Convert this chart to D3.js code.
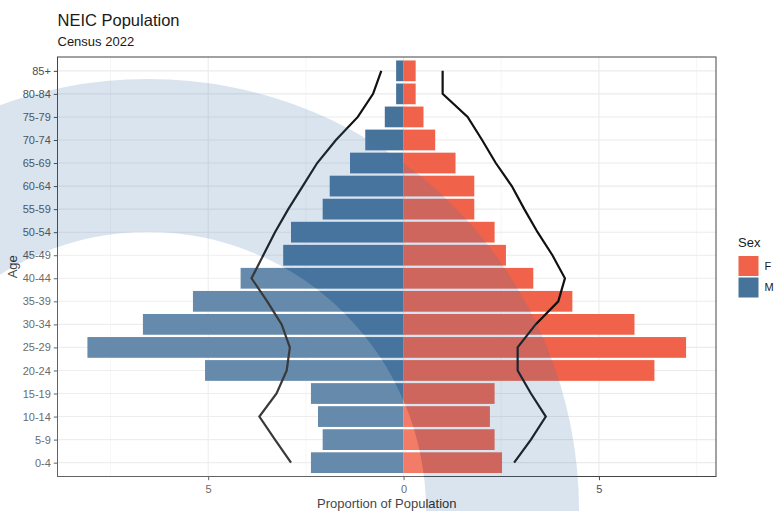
<!DOCTYPE html>
<html lang="en">
<head>
<meta charset="UTF-8">
<script src="https://d3js.org/d3.v7.min.js"></script>
<style>
  body { margin: 0; background: #fff; }
  text { font-family: "Liberation Sans", Arial, sans-serif; }
</style>
</head>
<body>
<div id="my_dataviz"></div>
<script>

// age groups, youngest first (drawn bottom to top)
const ageGroups = ["0-4", "5-9", "10-14", "15-19", "20-24", "25-29", "30-34", "35-39", "40-44",
                   "45-49", "50-54", "55-59", "60-64", "65-69", "70-74", "75-79", "80-84", "85+"];

// NEIC census 2022, % of population
const malePct   = [2.37, 2.07, 2.19, 2.37, 5.08, 8.09, 6.67, 5.39, 4.17, 3.08, 2.88, 2.07, 1.89, 1.37, 0.98, 0.48, 0.19, 0.19];
const femalePct = [2.52, 2.33, 2.21, 2.33, 6.42, 7.23, 5.91, 4.32, 3.32, 2.62, 2.33, 1.81, 1.81, 1.33, 0.81, 0.51, 0.31, 0.31];

// reference population outline (black lines)
const maleRef   = [2.88, 3.29, 3.69, 3.25, 2.99, 2.91, 3.12, 3.49, 3.89, 3.59, 3.29, 2.95, 2.58, 2.21, 1.73, 1.17, 0.78, 0.57];
const femaleRef = [2.83, 3.26, 3.64, 3.26, 2.92, 2.92, 3.38, 3.96, 4.13, 3.81, 3.43, 3.09, 2.77, 2.36, 2.01, 1.64, 1.00, 1.00];

const xTicks = [-5, 0, 5];
const xMinor = [-7.5, -2.5, 2.5, 7.5];
const sexes = ["F", "M"];
const sexColor = {F: "#f0624a", M: "#46739a"};

const W = 774, H = 511;
const margin = {top: 57, right: 58, bottom: 34.5, left: 57.5};
const pw = W - margin.left - margin.right,
      ph = H - margin.top - margin.bottom;

const svg = d3.select("#my_dataviz")
  .append("svg")
    .attr("width", W)
    .attr("height", H);

// titles
svg.append("text")
  .attr("x", 57.5).attr("y", 26)
  .attr("font-size", 16.5).attr("fill", "#1a1a1a")
  .text("NEIC Population");
svg.append("text")
  .attr("x", 57.5).attr("y", 46)
  .attr("font-size", 13).attr("fill", "#1a1a1a")
  .text("Census 2022");

const g = svg.append("g")
  .attr("transform", `translate(${margin.left},${margin.top})`);

// x range like ggplot: data range + 5% each side
const lo = d3.min(malePct, d => -d), hi = d3.max(femalePct);
const pad = (hi - lo) * 0.05;
const x = d3.scaleLinear()
  .domain([lo - pad, hi + pad])
  .range([0, pw]);

// discrete y with 0.6 expansion
const y = d3.scalePoint()
  .domain(ageGroups)
  .range([ph, 0])
  .padding(0.6);
const barH = y.step() * 0.9;

// grid
g.selectAll(".minor").data(xMinor).join("line")
  .attr("x1", d => x(d)).attr("x2", d => x(d))
  .attr("y1", 0).attr("y2", ph)
  .attr("stroke", "#f0f0f0").attr("stroke-width", 0.6);
g.selectAll(".vmaj").data(xTicks).join("line")
  .attr("x1", d => x(d)).attr("x2", d => x(d))
  .attr("y1", 0).attr("y2", ph)
  .attr("stroke", "#ebebeb").attr("stroke-width", 1.1);
g.selectAll(".hmaj").data(ageGroups).join("line")
  .attr("x1", 0).attr("x2", pw)
  .attr("y1", d => y(d)).attr("y2", d => y(d))
  .attr("stroke", "#ebebeb").attr("stroke-width", 1.1);

// bars
g.selectAll(".male").data(ageGroups).join("rect")
  .attr("x", (d, i) => x(-malePct[i]))
  .attr("width", (d, i) => x(0) - x(-malePct[i]))
  .attr("y", d => y(d) - barH / 2)
  .attr("height", barH)
  .attr("fill", sexColor.M);
g.selectAll(".female").data(ageGroups).join("rect")
  .attr("x", x(0))
  .attr("width", (d, i) => x(femalePct[i]) - x(0))
  .attr("y", d => y(d) - barH / 2)
  .attr("height", barH)
  .attr("fill", sexColor.F);

// reference lines
const refLine = d3.line()
  .x(d => x(d.v))
  .y(d => y(d.age));
g.append("path")
  .datum(ageGroups.map((a, i) => ({age: a, v: -maleRef[i]})))
  .attr("d", refLine)
  .attr("fill", "none").attr("stroke", "#111").attr("stroke-width", 2.2);
g.append("path")
  .datum(ageGroups.map((a, i) => ({age: a, v: femaleRef[i]})))
  .attr("d", refLine)
  .attr("fill", "none").attr("stroke", "#111").attr("stroke-width", 2.2);

// panel border
g.append("rect")
  .attr("width", pw).attr("height", ph)
  .attr("fill", "none").attr("stroke", "#444").attr("stroke-width", 1);

// axes
const xAxis = g.append("g")
  .attr("transform", `translate(0,${ph})`)
  .call(d3.axisBottom(x).tickValues(xTicks).tickFormat(d => Math.abs(d)).tickSize(3.7).tickPadding(4.5));
const yAxis = g.append("g")
  .call(d3.axisLeft(y).tickSize(3.7).tickPadding(3));
[xAxis, yAxis].forEach(a => {
  a.select(".domain").remove();
  a.selectAll(".tick line").attr("stroke", "#444");
  a.selectAll(".tick text")
    .attr("fill", "#4d4d4d")
    .attr("font-size", 11)
    .attr("font-family", "Liberation Sans, Arial, sans-serif");
});

svg.append("text")
  .attr("x", margin.left + pw / 2).attr("y", 508)
  .attr("text-anchor", "middle")
  .attr("font-size", 13).attr("fill", "#1a1a1a")
  .text("Proportion of Population");
svg.append("text")
  .attr("transform", `translate(17,${margin.top + ph / 2}) rotate(-90)`)
  .attr("text-anchor", "middle")
  .attr("font-size", 13).attr("fill", "#1a1a1a")
  .text("Age");

// legend
const leg = svg.append("g").attr("transform", "translate(738,0)");
leg.append("text")
  .attr("x", 0).attr("y", 247)
  .attr("font-size", 13).attr("fill", "#1a1a1a")
  .text("Sex");
leg.selectAll(".key").data(sexes).join("rect")
  .attr("x", 0.5)
  .attr("y", (d, i) => 256 + i * 21.5)
  .attr("width", 20).attr("height", 20)
  .attr("fill", d => sexColor[d]);
leg.selectAll(".lab").data(sexes).join("text")
  .attr("x", 26.5)
  .attr("y", (d, i) => 266 + i * 21.5)
  .attr("dy", "0.35em")
  .attr("font-size", 11).attr("fill", "#1a1a1a")
  .text(d => d);

// faint logo watermark on top: a blue ring with a pale disc inside
const cx = 148, cy = 510, rOut = 431, rIn = 278;
const circ = r => `M${cx - r},${cy}a${r},${r} 0 1,0 ${2 * r},0a${r},${r} 0 1,0 ${-2 * r},0Z`;
svg.append("path")
  .attr("d", circ(rOut) + circ(rIn))
  .attr("fill-rule", "evenodd")
  .attr("fill", "#4678af")
  .attr("fill-opacity", 0.2);
svg.append("path")
  .attr("d", circ(rIn))
  .attr("fill", "#fff")
  .attr("fill-opacity", 0.17);

</script>
</body>
</html>
